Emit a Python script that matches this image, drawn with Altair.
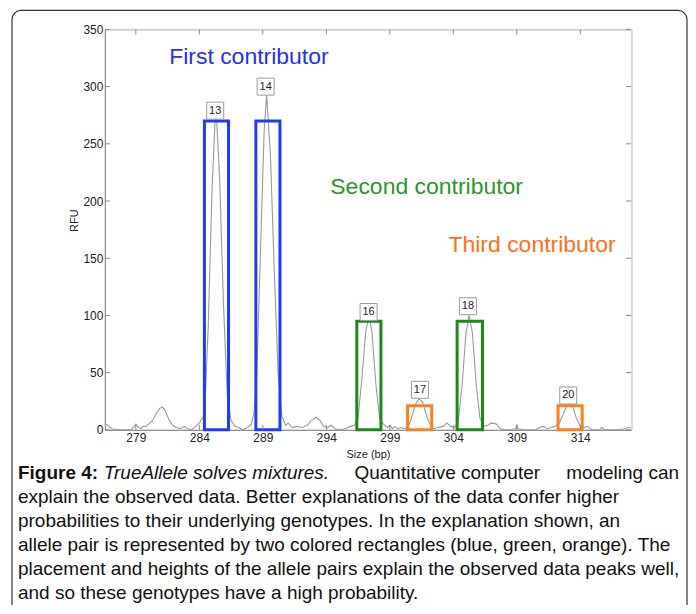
import altair as alt
import pandas as pd

# ---- data ----
trace_bp = [276.56, 276.8, 277.1, 277.5, 278.0, 278.6, 278.8, 279.0, 279.2, 279.4, 279.6, 279.8,
            280.0, 280.3, 280.6, 280.9, 281.1, 281.3, 281.6, 281.9, 282.2, 282.5, 282.8, 283.1,
            283.4, 283.7, 284.0, 284.2, 284.4, 284.7, 285.0, 285.3, 285.6, 285.9, 286.2, 286.5,
            286.8, 287.1, 287.4, 287.8, 288.1, 288.3, 288.5, 288.8, 289.1, 289.3, 289.6, 289.9,
            290.2, 290.5, 290.8, 291.0, 291.3, 291.7, 292.1, 292.5, 292.8, 293.2, 293.5, 293.8,
            294.1, 294.4, 294.7, 295.1, 295.5, 295.9, 296.2, 296.5, 296.8, 297.1, 297.35, 297.6,
            297.9, 298.2, 298.5, 298.8, 299.0, 299.2, 299.4, 299.6, 299.9, 300.2, 300.5, 300.7,
            301.0, 301.3, 301.6, 301.9, 302.2, 302.5, 302.8, 303.2, 303.5, 303.8, 304.1, 304.4,
            304.7, 305.0, 305.25, 305.5, 305.8, 306.1, 306.4, 306.7, 307.0, 307.4, 307.7, 308.0,
            308.5, 308.9, 309.0, 309.1, 309.5, 310.0, 310.5, 310.8, 311.1, 311.4, 311.7, 312.0,
            312.3, 312.6, 312.9, 313.15, 313.4, 313.7, 314.0, 314.3, 314.6, 314.9, 315.5, 315.7,
            315.9, 316.5, 317.0, 317.5, 317.8, 318.0]
trace_rfu = [5, 4, 1, 0, 0, 0, 2, 5, 2, 1, 3, 3,
             5, 8, 14, 19, 20, 17, 9, 4, 2, 1, 3, 1,
             0, 3, 6, 10, 10, 90, 210, 285, 220, 110, 30, 8,
             3, 2, 0, 2, 5, 15, 40, 150, 260, 293, 240, 140,
             50, 12, 4, 6, 2, 3, 2, 4, 8, 11, 8, 3,
             2, 4, 1, 0, 1, 3, 4, 10, 45, 85, 100, 85,
             40, 10, 5, 2, 4, 1, 3, 1, 2, 1, 4, 10,
             22, 27, 24, 12, 4, 1, 2, 3, 6, 3, 2, 8,
             40, 85, 100, 85, 40, 10, 3, 4, 6, 5, 1, 0,
             0, 1, 4, 1, 0, 0, 0, 2, 3, 1, 2, 3,
             5, 12, 20, 24, 20, 10, 3, 2, 3, 0, 0, 2,
             0, 0, 0, 1, 2, 2]

box_start = [284.4, 288.45, 296.4, 300.4, 304.3, 312.25]
box_end = [286.3, 290.35, 298.3, 302.3, 306.3, 314.15]
box_height = [270, 270, 95, 21, 95, 21]
box_group = ["First contributor", "First contributor", "Second contributor",
             "Third contributor", "Second contributor", "Third contributor"]

allele_labels = ["13", "14", "16", "17", "18", "20"]
label_bp = [285.25, 289.22, 297.33, 301.37, 305.15, 313.05]
label_rfu = [279, 300, 103, 35, 108, 30]

contributors = ["First contributor", "Second contributor", "Third contributor"]
contrib_bp = [287.9, 301.9, 310.2]
contrib_rfu = [325.6, 212, 161.5]
box_colors = ["#1f3bf5", "#1a8a1a", "#ff8019"]
text_colors = ["#2233ee", "#2a962a", "#ff6f1a"]

x_ticks = [279, 284, 289, 294, 299, 304, 309, 314]
y_ticks = [0, 50, 100, 150, 200, 250, 300, 350]

caption_rest = [
    "explain the observed data. Better explanations of the data confer higher",
    "probabilities to their underlying genotypes. In the explanation shown, an",
    "allele pair is represented by two colored rectangles (blue, green, orange). The",
    "placement and heights of the allele pairs explain the observed data peaks well,",
    "and so these genotypes have a high probability.",
]

W, H = 527, 401
XDOM = [276.56, 318.0]
YDOM = [0, 350]

trace = pd.DataFrame({"bp": trace_bp, "rfu": trace_rfu})
boxes = pd.DataFrame({"x1": box_start, "x2": box_end, "h": box_height, "g": box_group, "zero": 0})
labels = pd.DataFrame({"bp": label_bp, "rfu": label_rfu, "t": allele_labels})
contrib = pd.DataFrame({"bp": contrib_bp, "rfu": contrib_rfu, "t": contributors})
xt = pd.DataFrame({"v": x_ticks})
yt = pd.DataFrame({"v": y_ticks})
one = pd.DataFrame({"a": [0]})

xs = alt.Scale(domain=XDOM, nice=False, zero=False)
ys = alt.Scale(domain=YDOM, nice=False)
FONT = "Liberation Sans"

xaxis = alt.Axis(values=x_ticks, ticks=False, tickSize=0, labelPadding=3, labelFontSize=12,
                 labelColor="#222", labelFont=FONT, grid=False, domainColor="#888",
                 title="Size (bp)", titleFont=FONT, titleFontSize=11, titleFontWeight="normal",
                 titleColor="#222", titlePadding=5)
yaxis = alt.Axis(values=y_ticks, ticks=False, tickSize=0, labelPadding=2, labelFontSize=12,
                 labelColor="#222", labelFont=FONT, grid=False, domainColor="#888",
                 title="RFU", titleFont=FONT, titleFontSize=11, titleFontWeight="normal",
                 titleColor="#222", titleX=-25, titleY=191, titleAngle=-90)

line = alt.Chart(trace).mark_line(color="#9a9a9a", strokeWidth=1.1).encode(
    x=alt.X("bp:Q", scale=xs, axis=xaxis),
    y=alt.Y("rfu:Q", scale=ys, axis=yaxis),
)

rects = alt.Chart(boxes).mark_rect(filled=False, strokeWidth=3).encode(
    x=alt.X("x1:Q", scale=xs), x2="x2:Q",
    y=alt.Y("zero:Q", scale=ys), y2="h:Q",
    stroke=alt.Stroke("g:N", scale=alt.Scale(domain=contributors, range=box_colors), legend=None),
)

lab_box = alt.Chart(labels).mark_square(size=290, fill="white", stroke="#9a9a9a",
                                         strokeWidth=1, opacity=1).encode(
    x=alt.X("bp:Q", scale=xs), y=alt.Y("rfu:Q", scale=ys))
lab_txt = alt.Chart(labels).mark_text(font=FONT, fontSize=11, color="#222", baseline="middle").encode(
    x=alt.X("bp:Q", scale=xs), y=alt.Y("rfu:Q", scale=ys), text="t:N")

ctext = alt.Chart(contrib).mark_text(font=FONT, fontSize=23, baseline="middle").encode(
    x=alt.X("bp:Q", scale=xs), y=alt.Y("rfu:Q", scale=ys), text="t:N",
    color=alt.Color("t:N", scale=alt.Scale(domain=contributors, range=text_colors), legend=None))

# inward ticks
bt = alt.Chart(xt).mark_rule(color="#888").encode(x=alt.X("v:Q", scale=xs), y=alt.value(H), y2=alt.value(H - 5))
tt = alt.Chart(xt).mark_rule(color="#888").encode(x=alt.X("v:Q", scale=xs), y=alt.value(0), y2=alt.value(5))
lt = alt.Chart(yt).mark_rule(color="#888").encode(y=alt.Y("v:Q", scale=ys), x=alt.value(0), x2=alt.value(5))
rt = alt.Chart(yt).mark_rule(color="#888").encode(y=alt.Y("v:Q", scale=ys), x=alt.value(W - 5), x2=alt.value(W))
rborder = alt.Chart(one).mark_rule(color="#dcdcdc", strokeWidth=2).encode(
    x=alt.value(W + 1), y=alt.value(0), y2=alt.value(H))

# outer figure frame
frame = alt.Chart(one).mark_rect(filled=False, stroke="#333", strokeWidth=1.2, cornerRadius=9,
                                 clip=False).encode(
    x=alt.value(-93), x2=alt.value(583), y=alt.value(-19), y2=alt.value(700))

CF = "Liberation Sans, sans-serif"
CS = 19
c1a = alt.Chart(one).mark_text(text="Figure 4:", font=CF, fontSize=CS, fontWeight="bold",
                               align="left", baseline="middle", color="#111").encode(
    x=alt.value(-87), y=alt.value(444))
c1b = alt.Chart(one).mark_text(text="TrueAllele solves mixtures.", font=CF, fontSize=CS,
                               fontStyle="italic", align="left", baseline="middle", color="#111").encode(
    x=alt.value(-1), y=alt.value(444))
c1c = alt.Chart(one).mark_text(text="Quantitative computer", font=CF, fontSize=CS,
                               align="left", baseline="middle", color="#111").encode(
    x=alt.value(250), y=alt.value(444))
c1d = alt.Chart(one).mark_text(text="modeling can", font=CF, fontSize=CS,
                               align="right", baseline="middle", color="#111").encode(
    x=alt.value(575), y=alt.value(444))
c2 = alt.Chart(one).mark_text(text=caption_rest, font=CF, fontSize=CS, lineHeight=24,
                              align="left", baseline="top", color="#111").encode(
    x=alt.value(-87), y=alt.value(459))

chart = alt.layer(frame, rborder, line, rects, lab_box, lab_txt, ctext, bt, tt, lt, rt,
                  c1a, c1b, c1c, c1d, c2).properties(
    width=W, height=H,
    autosize=alt.AutoSizeParams(type="none"),
    padding={"left": 97, "top": 21, "right": 57, "bottom": 175},
).configure_view(stroke="#aaa", strokeWidth=1)

chart.save("out.html", embed_options={"renderer": "svg", "actions": False})
